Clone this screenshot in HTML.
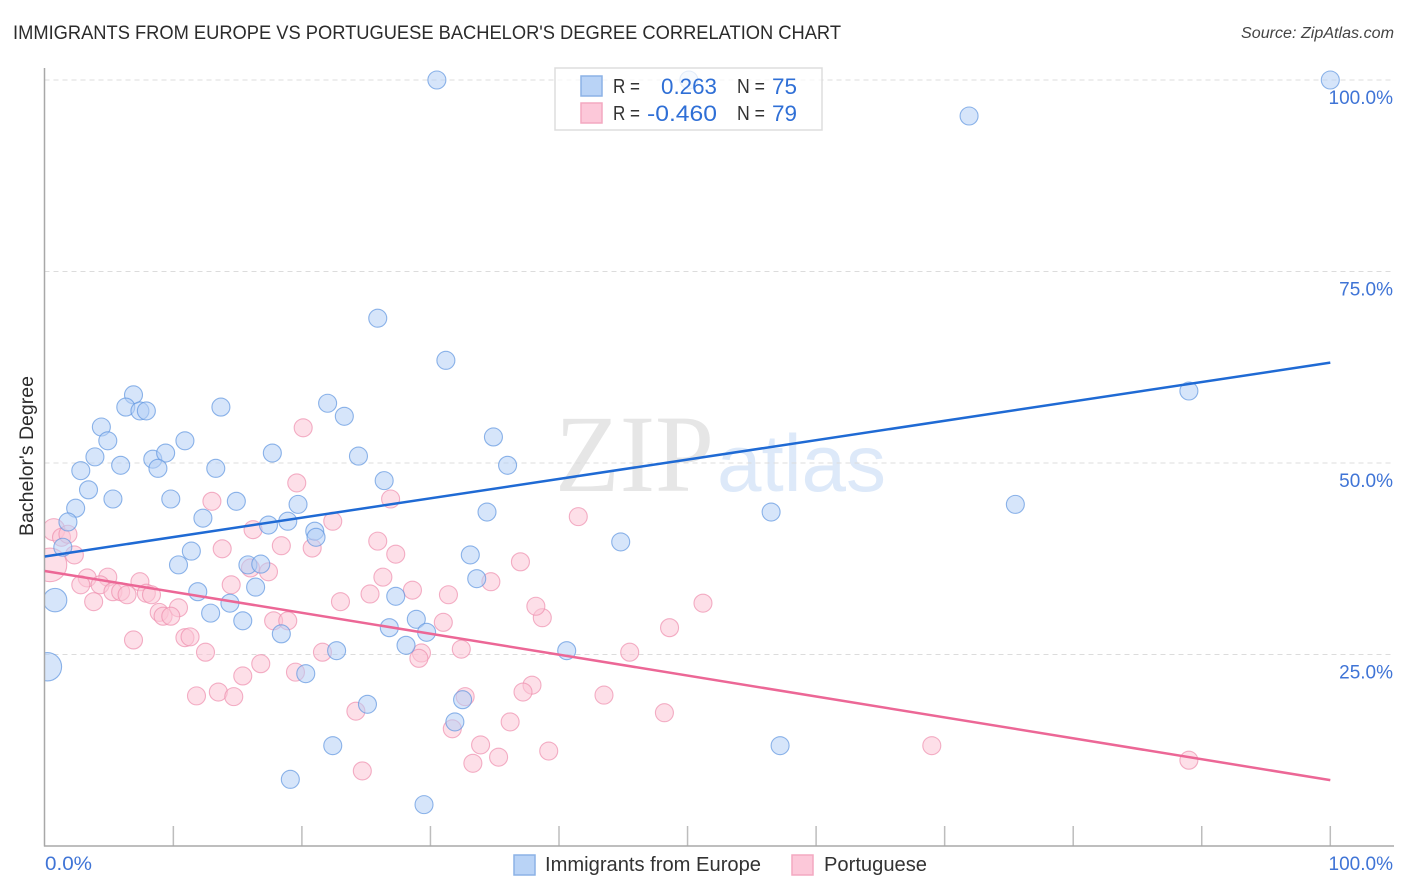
<!DOCTYPE html>
<html lang="en">
<head>
<meta charset="utf-8">
<title>Immigrants from Europe vs Portuguese Bachelor's Degree Correlation Chart</title>
<style>
html,body{margin:0;padding:0;background:#fff;width:1406px;height:892px;overflow:hidden}
svg{display:block;font-family:"Liberation Sans",Arial,sans-serif}
.tick{fill:#3f74d6;font-size:19px}
.dark{fill:#333;font-size:20px}
.val{fill:#2f6fd6;font-size:22px}
</style>
</head>
<body>
<svg id="chart" width="1406" height="892" viewBox="0 0 1406 892" xmlns="http://www.w3.org/2000/svg">
  <text x="13" y="39" font-size="19" fill="#2b2b2b" textLength="828" lengthAdjust="spacingAndGlyphs">IMMIGRANTS FROM EUROPE VS PORTUGUESE BACHELOR'S DEGREE CORRELATION CHART</text>
  <text x="1394" y="38" font-size="15.5" font-style="italic" fill="#444" text-anchor="end" textLength="153" lengthAdjust="spacingAndGlyphs">Source: ZipAtlas.com</text>

  <g>
    <text x="555" y="491" font-family="'Liberation Serif',serif" font-size="110" fill="#e6e6e6" textLength="159" lengthAdjust="spacingAndGlyphs">ZIP</text>
    <text x="717" y="491" font-family="'Liberation Sans',sans-serif" font-size="81" fill="#dde9f9" textLength="169" lengthAdjust="spacingAndGlyphs">atlas</text>
  </g>

  <g id="grid"></g>
  <g id="pink-points"></g>
  <g id="blue-points"></g>
  <rect x="0" y="60" width="44.5" height="800" fill="#ffffff"></rect>
  <g id="axes"></g>
  <g id="trends"></g>
  <g id="tick-labels"></g>

  <text transform="translate(33,456) rotate(-90)" font-size="19" fill="#2b2b2b" text-anchor="middle" textLength="160" lengthAdjust="spacingAndGlyphs">Bachelor's Degree</text>

  <g>
    <rect x="555" y="68" width="267" height="62" fill="#fff" fill-opacity="0.75" stroke="#dddddd" stroke-width="1.5"></rect>
    <rect x="581" y="76" width="21" height="20" fill="#b9d3f6" stroke="#8cb2e6" stroke-width="1.5"></rect>
    <rect x="581" y="103" width="21" height="20" fill="#fcc8d9" stroke="#f3a9c1" stroke-width="1.5"></rect>
    <text class="dark" x="613" y="93" textLength="27" lengthAdjust="spacingAndGlyphs">R =</text>
    <text class="val" x="717" y="94" text-anchor="end" textLength="56" lengthAdjust="spacingAndGlyphs">0.263</text>
    <text class="dark" x="737" y="93" textLength="28" lengthAdjust="spacingAndGlyphs">N =</text>
    <text class="val" x="772" y="94" textLength="25" lengthAdjust="spacingAndGlyphs">75</text>
    <text class="dark" x="613" y="120" textLength="27" lengthAdjust="spacingAndGlyphs">R =</text>
    <text class="val" x="717" y="121" text-anchor="end" textLength="70" lengthAdjust="spacingAndGlyphs">-0.460</text>
    <text class="dark" x="737" y="120" textLength="28" lengthAdjust="spacingAndGlyphs">N =</text>
    <text class="val" x="772" y="121" textLength="25" lengthAdjust="spacingAndGlyphs">79</text>
  </g>

  <g>
    <rect x="514" y="855" width="21" height="20" fill="#b9d3f6" stroke="#8cb2e6" stroke-width="1.5"></rect>
    <text x="545" y="871" font-size="20" fill="#333" textLength="216" lengthAdjust="spacingAndGlyphs">Immigrants from Europe</text>
    <rect x="792" y="855" width="21" height="20" fill="#fcc8d9" stroke="#f3a9c1" stroke-width="1.5"></rect>
    <text x="824" y="871" font-size="20" fill="#333" textLength="103" lengthAdjust="spacingAndGlyphs">Portuguese</text>
  </g>
</svg>

<script>
// Bubble weights apply to the first points of each series; all others weigh 1.
const blueX = [0.8,0.2,30.5,50.1,100,71.9,25.9,31.2,89.0,6.9,6.3,7.4,7.9,13.7,22.0,23.3,4.4,4.9,10.9,34.9,3.9,8.4,9.4,17.7,24.4,5.9,8.8,13.3,2.8,36.0,26.4,3.4,5.3,9.8,14.9,19.7,75.5,2.4,34.4,56.5,12.3,18.9,17.4,1.8,21.0,21.1,44.8,1.4,11.4,33.1,10.4,15.8,16.8,33.6,16.4,11.9,27.3,14.4,12.9,28.9,15.4,26.8,29.7,18.4,28.1,22.7,40.6,20.3,25.1,32.5,31.9,22.4,57.2,19.1,29.5];
const blueY = [32.1,23.4,100,100,100,95.3,68.9,63.4,59.4,58.9,57.3,56.8,56.8,57.3,57.8,56.1,54.7,52.9,52.9,53.4,50.8,50.5,51.3,51.3,50.9,49.7,49.3,49.3,49.0,49.7,47.7,46.5,45.3,45.3,45.0,44.6,44.6,44.1,43.6,43.6,42.8,42.4,41.9,42.3,41.1,40.3,39.7,39.0,38.5,38.0,36.7,36.7,36.8,34.9,33.8,33.2,32.6,31.7,30.4,29.6,29.4,28.5,27.9,27.7,26.2,25.5,25.5,22.5,18.5,19.1,16.2,13.1,13.1,8.7,5.4];
const blueWeights = [1.7,2.5];
const pinkX = [0.4,0.7,20.1,19.6,13.0,26.9,41.5,22.4,16.2,1.3,1.8,2.3,3.3,4.9,2.8,4.3,5.3,5.9,6.4,7.4,7.9,8.3,10.4,8.9,9.2,9.8,3.8,6.9,10.9,11.3,12.5,16.8,15.4,13.5,11.8,14.7,13.8,14.5,16.0,17.4,18.4,17.8,18.9,19.5,20.8,25.9,27.3,26.3,25.3,28.6,31.4,34.7,23.0,31.0,21.6,29.3,29.1,32.4,32.7,24.2,38.7,38.2,37.0,51.2,48.6,45.5,43.5,37.9,37.2,48.2,36.2,31.7,33.9,33.3,35.3,39.2,24.7,69.0,89.0];
const pinkY = [36.7,41.3,54.6,47.4,45.0,45.3,43.0,42.4,41.3,40.3,40.7,38.0,35.0,35.1,34.1,34.1,33.2,33.2,32.8,34.5,33.0,32.8,31.1,30.5,30.0,30.0,31.9,26.9,27.2,27.3,25.3,23.8,22.2,20.1,19.6,19.5,38.8,34.1,36.3,35.8,39.2,29.4,29.4,22.7,38.9,39.8,38.1,35.1,32.9,33.4,32.8,34.5,31.9,29.2,25.3,25.2,24.5,25.7,19.5,17.6,29.8,31.3,37.1,31.7,28.5,25.3,19.7,21.0,20.1,17.4,16.2,15.3,13.2,10.8,11.6,12.4,9.8,13.1,11.2];
const pinkWeights = [3.5,1.5];
const trendDomain = [0,100];
const blueTrend = [37.8,63.1];
const pinkTrend = [35.9,8.6];
const gridValues = [25,50,75,100];
const xTickValues = [0,10,20,30,40,50,60,70,80,90,100];
const yTickLabels = ["100.0%","75.0%","50.0%","25.0%"];
const yTickLabelValues = [100,75,50,25];
const xTickLabels = ["0.0%","100.0%"];

const NS = "http://www.w3.org/2000/svg";
function xScale(v){ return 44.8 + v * 12.855; }
function yScale(v){ return 846 - v * 7.66; }
function make(tag, attrs, parent){
  const el = document.createElementNS(NS, tag);
  for (const k in attrs) el.setAttribute(k, attrs[k]);
  parent.appendChild(el);
  return el;
}

const gridG = document.getElementById("grid");
gridValues.forEach(function(v){
  const l = make("line", {x1:44.5, x2:1393, y1:yScale(v), y2:yScale(v), stroke:"#dcdcdc", "stroke-width":1, "stroke-dasharray":"5 4"}, gridG);
  
  
});

const axesG = document.getElementById("axes");
xTickValues.forEach(function(v){
  if (v === 0) return;
  const t = make("line", {x1:xScale(v), x2:xScale(v), y1:826, y2:846, stroke:"#bdbdbd", "stroke-width":1.5}, axesG);
  
  
});
const yAxisLine = make("line", {x1:44.5, x2:44.5, y1:68, y2:846.5, stroke:"#a8a8a8", "stroke-width":1.5}, axesG);


const xAxisLine = make("line", {x1:44, x2:1394, y1:846, y2:846, stroke:"#a8a8a8", "stroke-width":1.5}, axesG);



function drawPoints(groupId, xs, ys, weights, fill, stroke, name){
  const g = document.getElementById(groupId);
  xs.forEach(function(x, i){
    const w = i < weights.length ? weights[i] : 1;
    const c = make("circle", {cx:xScale(x), cy:yScale(ys[i]), r:9*Math.sqrt(w), fill:fill, "fill-opacity":0.55, stroke:stroke, "stroke-opacity":0.7, "stroke-width":1.1}, g);
    
    
  });
}
drawPoints("pink-points", pinkX, pinkY, pinkWeights, "#fbc5d6", "#ee8fae", "portuguese-point");
drawPoints("blue-points", blueX, blueY, blueWeights, "#b4d0f5", "#5f96e0", "immigrants-from-europe-point");

const trendG = document.getElementById("trends");
const blueLine = make("line", {x1:xScale(trendDomain[0]), y1:yScale(blueTrend[0]), x2:xScale(trendDomain[1]), y2:yScale(blueTrend[1]), stroke:"#1f6ad4", "stroke-width":2.5}, trendG);


const pinkLine = make("line", {x1:xScale(trendDomain[0]), y1:yScale(pinkTrend[0]), x2:xScale(trendDomain[1]), y2:yScale(pinkTrend[1]), stroke:"#ec6796", "stroke-width":2.5}, trendG);



const labelG = document.getElementById("tick-labels");
yTickLabels.forEach(function(txt, i){
  const t = make("text", {x:1393, y:yScale(yTickLabelValues[i]) + 24, "text-anchor":"end", "class":"tick"}, labelG);
  t.textContent = txt;
  
  
});
const xLabelLeft = make("text", {x:45, y:870, "class":"tick", textLength:47, lengthAdjust:"spacingAndGlyphs"}, labelG);
xLabelLeft.textContent = xTickLabels[0];


const xLabelRight = make("text", {x:1393, y:870, "text-anchor":"end", "class":"tick"}, labelG);
xLabelRight.textContent = xTickLabels[1];


</script>
</body>
</html>
